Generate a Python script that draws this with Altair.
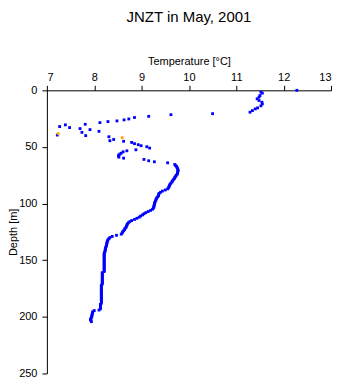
import altair as alt
import pandas as pd

depth = [0, 1.6, 2.5, 4.6, 6, 7.5, 9, 10.5, 12, 13.7, 15.5, 16.4, 17.9, 19.3,
         20.6, 21.5, 23, 24, 25.3, 26.1, 27, 27.6, 28.5, 30, 30.5, 32, 32.9, 33.8,
         34.7, 36.2, 37.1, 38.3, 39.5, 40, 41, 41.8, 43.4, 44.5, 45, 46, 47.1, 48,
         48.9, 49.8, 51, 52.5, 53.4, 54.3, 55.5, 56.3, 57.2, 58, 59, 59.9, 61, 62.2,
         63.1, 64, 65.5, 66.5, 67.3, 68.3, 69.3, 70.3, 71.2, 72.2, 73.2, 74.1, 75.1,
         76, 77, 78, 79, 80, 81, 82, 83, 84, 85, 86, 87, 88, 89, 90, 91, 92, 93, 94,
         95, 96, 97, 98, 99, 100, 101, 102, 103, 104, 105, 106, 107, 108, 109, 110,
         111, 112, 113, 114, 115, 116, 117, 118, 119, 120, 121, 122, 123, 124, 125,
         126, 127, 128, 129, 130, 131, 132, 133, 134, 135, 136, 137, 138, 139, 140,
         141, 142, 143, 144, 145, 146, 147, 148, 149, 150, 151, 152, 153, 154, 155,
         156, 157, 158, 159, 160, 161, 162, 163, 164, 165, 166, 167, 168, 169, 170,
         171, 172, 173, 174, 175, 176, 177, 178, 179, 180, 181, 182, 183, 184, 185,
         186, 187, 188, 189, 190, 191, 192, 193, 194, 194.5, 195.5, 196.5, 197.5,
         198.5, 199.5, 200.5, 201.5, 202.3, 203.3, 204.3]
temp = [12.28, 11.52, 11.55, 11.50, 11.48, 11.44, 11.48, 11.54, 11.55, 11.52, 11.45, 11.40, 11.34, 11.29,
        10.50, 9.62, 9.15, 8.85, 8.73, 8.63, 8.48, 8.29, 8.12, 7.81, 7.39, 7.27, 7.48, 7.70,
        7.91, 8.10, 7.74, 7.24, 7.22, 7.82, 8.31, 8.59, 8.41, 8.33, 8.62, 8.79, 8.85, 8.93,
        8.99, 9.11, 9.17, 8.88, 8.69, 8.61, 8.57, 8.54, 8.52, 8.51, 8.52, 8.62, 9.05, 9.15,
        9.27, 9.55, 9.70, 9.72, 9.74, 9.75, 9.76, 9.77, 9.77, 9.76, 9.76, 9.75, 9.73,
        9.72, 9.70, 9.69, 9.67, 9.65, 9.64, 9.62, 9.60, 9.59, 9.58, 9.57, 9.55, 9.50, 9.44, 9.40, 9.37, 9.36, 9.36, 9.34,
        9.32, 9.31, 9.30, 9.29, 9.28, 9.27, 9.27, 9.26, 9.26, 9.25, 9.23, 9.19, 9.14, 9.09, 9.05, 9.02,
        8.98, 8.95, 8.90, 8.85, 8.79, 8.75, 8.72, 8.70, 8.69, 8.68, 8.67, 8.65, 8.64, 8.62, 8.60,
        8.59, 8.57, 8.47, 8.38, 8.33, 8.31, 8.29, 8.28, 8.27, 8.27, 8.26, 8.26, 8.25, 8.24, 8.24,
        8.23, 8.23, 8.22, 8.21, 8.21, 8.21, 8.21, 8.21, 8.21, 8.21, 8.21, 8.21, 8.21, 8.21, 8.21,
        8.21, 8.21, 8.21, 8.21, 8.21, 8.17, 8.17, 8.17, 8.17, 8.17, 8.17, 8.17, 8.17, 8.17, 8.17,
        8.17, 8.15, 8.15, 8.15, 8.15, 8.15, 8.15, 8.15, 8.15, 8.15, 8.15, 8.15, 8.15, 8.15, 8.15,
        8.15, 8.15, 8.15, 8.13, 8.13, 8.13, 8.13, 8.13, 8.10, 8.00, 7.97, 7.96, 7.96,
        7.95, 7.95, 7.94, 7.93, 7.92, 7.93, 7.94]
# quality flag: "bad" points drawn in orange
bad_depths = [38.3, 41.8]
flag = ["bad" if d in bad_depths else "good" for d in depth]

x_ticks = [7, 8, 9, 10, 11, 12, 13]
y_ticks = [0, 50, 100, 150, 200, 250]

df = pd.DataFrame({"depth": depth, "temp": temp, "flag": flag})

FONT = "Liberation Sans"

chart = alt.Chart(df).mark_point(
    shape="square", filled=True, size=8, opacity=1
).encode(
    x=alt.X("temp:Q",
            scale=alt.Scale(domain=[7, 13], nice=False, zero=False),
            axis=alt.Axis(orient="top", title="Temperature [°C]", values=x_ticks,
                          grid=False, tickSize=5, labelPadding=3, titlePadding=5,
                          format="d")),
    y=alt.Y("depth:Q",
            scale=alt.Scale(domain=[0, 250], nice=False, zero=False, reverse=True),
            axis=alt.Axis(title="Depth [m]", values=y_ticks, grid=False, tickSize=5,
                          labelPadding=5, titleX=-39, titleBaseline="top",
                          titleAngle=270)),
    color=alt.Color("flag:N",
                    scale=alt.Scale(domain=["good", "bad"], range=["#0000ff", "#ffa500"]),
                    legend=None),
    order=alt.Order("flag:N", sort="descending"),
).properties(
    width=285,
    height=284,
    title=alt.TitleParams("JNZT in May, 2001", fontSize=15, fontWeight="normal",
                          font=FONT, anchor="middle", offset=31, color="black"),
    autosize=alt.AutoSizeParams(type="none"),
    padding={"left": 39, "top": 82, "right": 2, "bottom": 10},
).configure_view(
    stroke=None
).configure_axis(
    domainColor="black", tickColor="black", labelColor="black", titleColor="black",
    labelFont=FONT, titleFont=FONT, labelFontSize=11, titleFontSize=11,
    titleFontWeight="normal", domainWidth=1, tickWidth=1
)

chart.save("out.html", embed_options={"renderer": "svg", "actions": False})
